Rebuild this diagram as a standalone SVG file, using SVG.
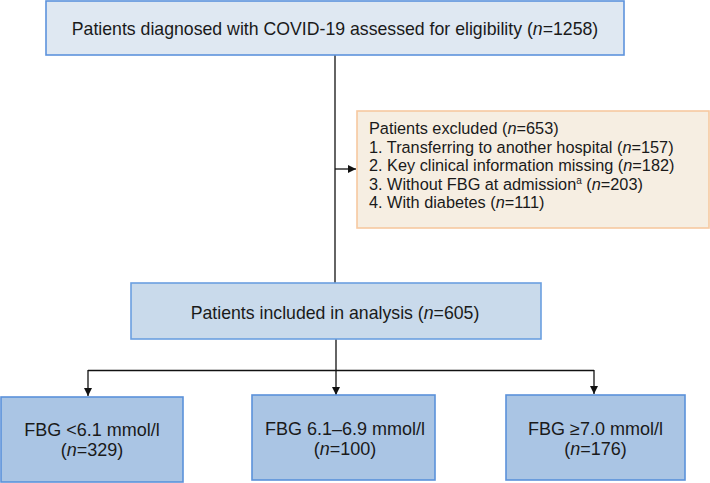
<svg xmlns="http://www.w3.org/2000/svg" width="710" height="483" viewBox="0 0 710 483">
<defs>
<marker id="arr" viewBox="0 0 10 10" refX="10" refY="5" markerWidth="8" markerHeight="8" markerUnits="userSpaceOnUse" orient="auto">
<path d="M0,0 L10,5 L0,10 z" fill="#111"/>
</marker>
</defs>
<style>
text{font-family:"Liberation Sans",Arial,sans-serif;fill:#1a1a1a}
.b{font-size:17.7px}
.o{font-size:16.3px}
.f{font-size:18px}
.top{fill:#dfe8f2;stroke:#5d93dc;stroke-width:1.6}
.mid{fill:#c9daeb;stroke:#6b9fe0;stroke-width:1.6}
.fbg{fill:#aac5e4;stroke:#5b91da;stroke-width:1.6}
.exc{fill:#f6eee2;stroke:#f7c9a1;stroke-width:1.6}
.ln{stroke:#111;stroke-width:1.3;fill:none}
</style>
<g id="connectors">
<line class="ln" x1="335" y1="55" x2="335" y2="283"/>
<line class="ln" x1="335" y1="169" x2="356" y2="169" marker-end="url(#arr)"/>
<line class="ln" x1="336" y1="339" x2="336" y2="395" marker-end="url(#arr)"/>
<line class="ln" x1="88" y1="370.5" x2="594" y2="370.5"/>
<line class="ln" x1="88" y1="370" x2="88" y2="396" marker-end="url(#arr)"/>
<line class="ln" x1="594" y1="370" x2="594" y2="394" marker-end="url(#arr)"/>
</g>
<g id="assessed">
<rect class="top" x="46" y="1" width="578" height="54"/>
<text class="b" x="335" y="34.5" text-anchor="middle">Patients diagnosed with COVID-19 assessed for eligibility (<tspan font-style="italic">n</tspan>=1258)</text>
</g>
<g id="excluded">
<rect class="exc" x="357" y="111" width="352" height="117"/>
<text class="o" x="369" y="134">Patients excluded (<tspan font-style="italic">n</tspan>=653)</text>
<text class="o" x="369" y="152.5">1. Transferring to another hospital (<tspan font-style="italic">n</tspan>=157)</text>
<text class="o" x="369" y="171">2. Key clinical information missing (<tspan font-style="italic">n</tspan>=182)</text>
<text class="o" x="369" y="189.5">3. Without FBG at admission<tspan font-size="10px" dy="-6">a</tspan><tspan dy="6"> (</tspan><tspan font-style="italic">n</tspan>=203)</text>
<text class="o" x="369" y="208">4. With diabetes (<tspan font-style="italic">n</tspan>=111)</text>
</g>
<g id="included">
<rect class="mid" x="131" y="283" width="410" height="56"/>
<text class="b" x="335" y="319" text-anchor="middle">Patients included in analysis (<tspan font-style="italic">n</tspan>=605)</text>
</g>
<g id="fbg-low">
<rect class="fbg" x="1" y="397" width="182" height="85"/>
<text class="f" x="92" y="436" text-anchor="middle">FBG &lt;6.1 mmol/l</text>
<text class="f" x="92" y="456" text-anchor="middle">(<tspan font-style="italic">n</tspan>=329)</text>
</g>
<g id="fbg-mid">
<rect class="fbg" x="252" y="395" width="183" height="85"/>
<text class="f" x="345" y="435" text-anchor="middle">FBG 6.1–6.9 mmol/l</text>
<text class="f" x="345" y="455" text-anchor="middle">(<tspan font-style="italic">n</tspan>=100)</text>
</g>
<g id="fbg-high">
<rect class="fbg" x="506" y="395" width="179" height="85"/>
<text class="f" x="595.5" y="435" text-anchor="middle">FBG ≥7.0 mmol/l</text>
<text class="f" x="595.5" y="455" text-anchor="middle">(<tspan font-style="italic">n</tspan>=176)</text>
</g>
</svg>
